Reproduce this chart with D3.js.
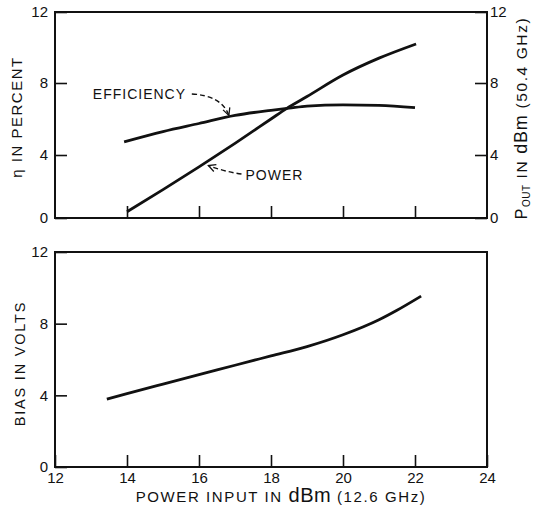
<!DOCTYPE html>
<html>
<head>
<meta charset="utf-8">
<script src="https://cdn.jsdelivr.net/npm/d3@7"></script>
<style>
  html, body { margin: 0; padding: 0; background: #fff; }
  svg text { font-family: "Liberation Sans", Arial, sans-serif; fill: #111; }
</style>
</head>
<body>
<svg id="chart" width="533" height="512"></svg>
<script>
// Input drive level, dBm at 12.6 GHz
const xTickValues = [12, 14, 16, 18, 20, 22, 24];
const yTickValues = [0, 4, 8, 12];

// Efficiency (percent) vs input power
const effInput = [13.92, 15, 16, 17, 18, 18.5, 19, 20, 21, 22.0];
const effValue = [4.73, 5.3, 5.75, 6.2, 6.48, 6.6, 6.72, 6.79, 6.76, 6.63];

// Output power (dBm at 50.4 GHz) vs input power
const powInput = [14.0, 15, 16, 17, 18, 18.43, 19, 20, 21, 22.03];
const powValue = [0.4, 1.8, 3.25, 4.65, 6.0, 6.58, 7.25, 8.45, 9.4, 10.2];

// Bias voltage vs input power
const biasInput = [13.44, 14, 15, 16, 17, 18, 19, 20, 21, 21.5, 22.17];
const biasValue = [3.79, 4.1, 4.63, 5.15, 5.68, 6.2, 6.72, 7.38, 8.22, 8.75, 9.54];

const svg = d3.select("#chart");
const ink = "#111";

const x = d3.scaleLinear().domain([12, 24]).range([55, 487]);
const yTop = d3.scaleLinear().domain([0, 4, 8, 12]).range([218, 155, 83, 12]);
const yBot = d3.scaleLinear().domain([0, 12]).range([467, 252]);

function frame(yScale) {
  const y0 = yScale(0), y1 = yScale(12);
  svg.append("rect")
    .attr("x", x(12)).attr("y", y1)
    .attr("width", x(24) - x(12)).attr("height", y0 - y1)
    .attr("fill", "none").attr("stroke", ink).attr("stroke-width", 2);
}

function styleAxis(g) {
  g.select(".domain").remove();
  g.selectAll(".tick line").attr("stroke", ink).attr("stroke-width", 1.6);
  g.selectAll(".tick text").attr("font-size", 15).attr("fill", ink)
    .attr("font-family", "Liberation Sans, Arial, sans-serif");
}

// ---------- top panel ----------
frame(yTop);
svg.append("g").attr("transform", `translate(0,${yTop(0)})`)
  .call(d3.axisBottom(x).tickValues([14, 16, 18, 20, 22]).tickSize(-12).tickFormat(""))
  .call(styleAxis);
svg.append("g").attr("transform", `translate(${x(12)},0)`)
  .call(d3.axisLeft(yTop).tickValues(yTickValues).tickSize(-12).tickPadding(7))
  .call(styleAxis);
svg.append("g").attr("transform", `translate(${x(24)},0)`)
  .call(d3.axisRight(yTop).tickValues(yTickValues).tickSize(-12).tickPadding(3))
  .call(styleAxis);

const lineTop = d3.line().curve(d3.curveMonotoneX);
svg.append("path")
  .attr("d", lineTop(effInput.map((d, i) => [x(d), yTop(effValue[i])])))
  .attr("fill", "none").attr("stroke", ink).attr("stroke-width", 2.8);
svg.append("path")
  .attr("d", lineTop(powInput.map((d, i) => [x(d), yTop(powValue[i])])))
  .attr("fill", "none").attr("stroke", ink).attr("stroke-width", 2.8);

// open arrowhead for the callouts
svg.append("defs").append("marker")
  .attr("id", "head").attr("viewBox", "0 0 10 10")
  .attr("refX", 9).attr("refY", 5)
  .attr("markerWidth", 9).attr("markerHeight", 9)
  .attr("markerUnits", "userSpaceOnUse").attr("orient", "auto")
  .append("path").attr("d", "M1,1 L9,5 L1,9")
  .attr("fill", "none").attr("stroke", ink).attr("stroke-width", 1.4)
  .attr("stroke-dasharray", "none");

function callout(p0, c, p1) {
  const path = d3.path();
  path.moveTo(x(p0[0]), yTop(p0[1]));
  path.quadraticCurveTo(x(c[0]), yTop(c[1]), x(p1[0]), yTop(p1[1]));
  svg.append("path").attr("d", path.toString())
    .attr("fill", "none").attr("stroke", ink).attr("stroke-width", 1.4)
    .attr("stroke-dasharray", "5,3").attr("marker-end", "url(#head)");
}

svg.append("text").attr("x", x(13.05)).attr("y", yTop(7.11))
  .attr("font-size", 14).attr("letter-spacing", 1).text("EFFICIENCY");
callout([15.8, 7.39], [16.63, 7.3], [16.83, 6.2]);

svg.append("text").attr("x", x(17.29)).attr("y", yTop(2.41))
  .attr("font-size", 14).attr("letter-spacing", 1).text("POWER");
callout([17.18, 2.79], [16.7, 2.95], [16.26, 3.33]);

// axis titles, top panel
svg.append("text")
  .attr("transform", `translate(22,${(yTop(0) + yTop(12)) / 2 + 2}) rotate(-90)`)
  .attr("text-anchor", "middle").attr("font-size", 15).attr("letter-spacing", 1.5)
  .text("η IN PERCENT");

const rt = svg.append("text")
  .attr("transform", `translate(527,${(yTop(0) + yTop(12)) / 2 + 3}) rotate(-90)`)
  .attr("text-anchor", "middle").attr("font-size", 15.5).attr("letter-spacing", 1.6);
rt.append("tspan").attr("font-size", 16).text("P");
rt.append("tspan").attr("font-size", 10).attr("dy", 3).attr("letter-spacing", 0.5).text("OUT");
rt.append("tspan").attr("dy", -3).text(" IN ");
rt.append("tspan").attr("font-size", 18).attr("letter-spacing", 0.8).text("dBm");
rt.append("tspan").text(" (50.4 GHz)");

// ---------- bottom panel ----------
frame(yBot);
svg.append("g").attr("transform", `translate(0,${yBot(0)})`)
  .call(d3.axisBottom(x).tickValues(xTickValues).tickSize(-12).tickPadding(5))
  .call(styleAxis);
svg.append("g").attr("transform", `translate(${x(12)},0)`)
  .call(d3.axisLeft(yBot).tickValues(yTickValues).tickSize(-12).tickPadding(7))
  .call(styleAxis);

svg.append("path")
  .attr("d", d3.line().curve(d3.curveMonotoneX)(biasInput.map((d, i) => [x(d), yBot(biasValue[i])])))
  .attr("fill", "none").attr("stroke", ink).attr("stroke-width", 2.8);

svg.append("text")
  .attr("transform", `translate(25,${(yBot(0) + yBot(12)) / 2 + 4}) rotate(-90)`)
  .attr("text-anchor", "middle").attr("font-size", 14.5).attr("letter-spacing", 1.8)
  .text("BIAS IN VOLTS");

const xt = svg.append("text").attr("x", 281).attr("y", 502)
  .attr("text-anchor", "middle").attr("font-size", 15).attr("letter-spacing", 1.6);
xt.append("tspan").text("POWER INPUT IN ");
xt.append("tspan").attr("font-size", 20).attr("letter-spacing", 0.5).text("dBm");
xt.append("tspan").text(" (12.6 GHz)");
</script>
</body>
</html>
